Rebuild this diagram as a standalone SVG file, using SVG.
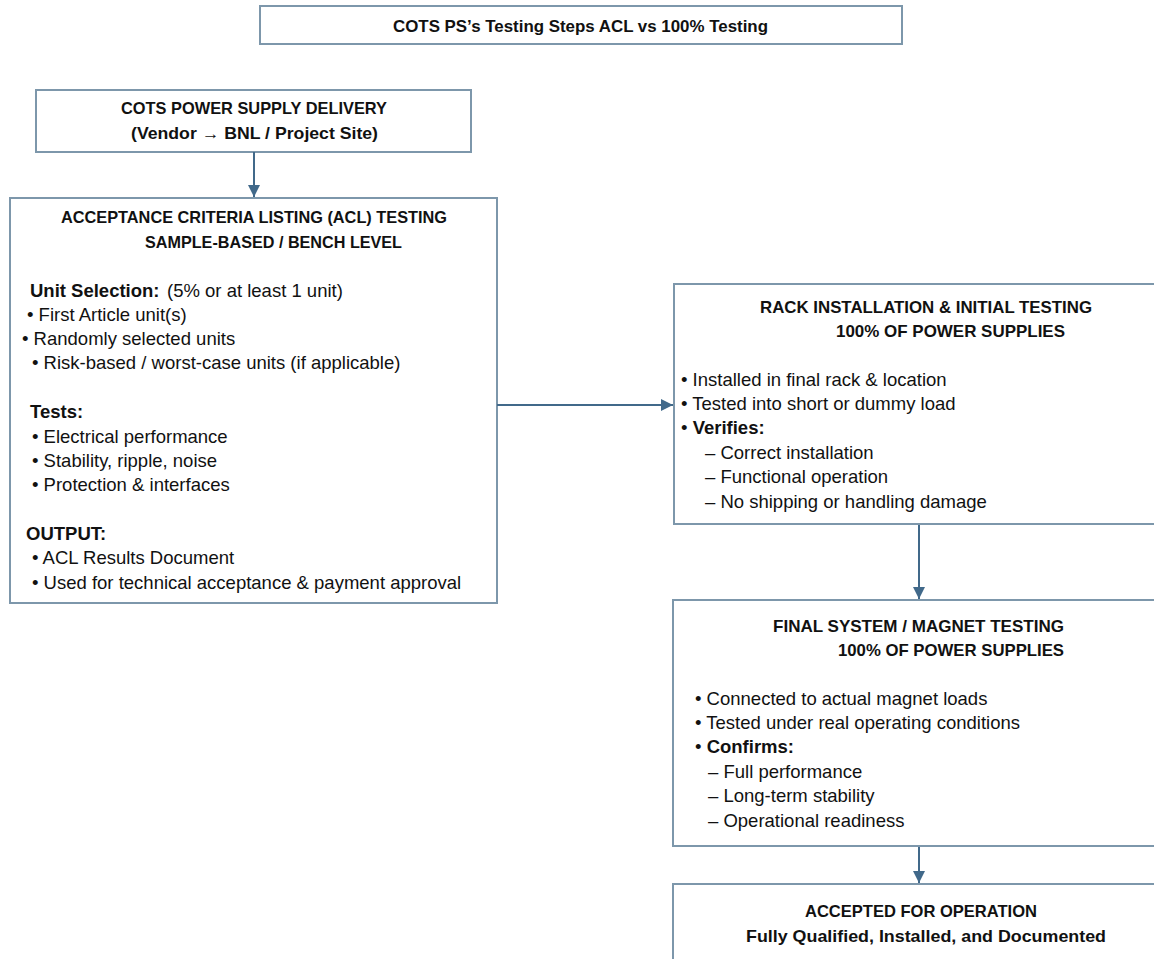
<svg xmlns="http://www.w3.org/2000/svg" width="1154" height="959" viewBox="0 0 1154 959">
<style>
.box{fill:#ffffff;stroke:#7d97ab;stroke-width:2}
.t{font-family:"Liberation Sans",Arial,sans-serif;font-size:18.5px;fill:#111111}
.h{font-family:"Liberation Sans",Arial,sans-serif;font-size:16.5px;font-weight:bold;fill:#111111}
.b{font-weight:bold}
.conn{stroke:#41698a;stroke-width:2;fill:none}
</style>
<defs>
<marker id="ah" viewBox="0 0 10 10" refX="10" refY="5" markerWidth="12" markerHeight="12" markerUnits="userSpaceOnUse" orient="auto">
<path d="M0,0 L10,5 L0,10 z" fill="#41698a"/>
</marker>
</defs>
<rect width="1154" height="959" fill="#ffffff"/>
<g id="title">
<rect class="box" x="260" y="6" width="642" height="38"/>
<text class="h" x="393" y="32" textLength="375" lengthAdjust="spacingAndGlyphs">COTS PS’s Testing Steps ACL vs 100% Testing</text>
</g>
<g id="delivery">
<rect class="box" x="36" y="90" width="435" height="62"/>
<text class="h" x="121" y="114" textLength="266" lengthAdjust="spacingAndGlyphs">COTS POWER SUPPLY DELIVERY</text>
<text class="h" x="131" y="139" textLength="247" lengthAdjust="spacingAndGlyphs">(Vendor → BNL / Project Site)</text>
</g>
<g id="acl">
<rect class="box" x="10" y="198" width="487" height="405"/>
<text class="h" x="61" y="223" textLength="386" lengthAdjust="spacingAndGlyphs">ACCEPTANCE CRITERIA LISTING (ACL) TESTING</text>
<text class="h" x="145" y="248" textLength="257" lengthAdjust="spacingAndGlyphs">SAMPLE-BASED / BENCH LEVEL</text>
<text class="t b" x="30" y="297">Unit Selection:</text>
<text class="t" x="167" y="297">(5% or at least 1 unit)</text>
<text class="t" x="27" y="321">• First Article unit(s)</text>
<text class="t" x="22" y="345">• Randomly selected units</text>
<text class="t" x="32" y="369">• Risk-based / worst-case units (if applicable)</text>
<text class="t b" x="30" y="418">Tests:</text>
<text class="t" x="32" y="443">• Electrical performance</text>
<text class="t" x="32" y="467">• Stability, ripple, noise</text>
<text class="t" x="32" y="491">• Protection &amp; interfaces</text>
<text class="t b" x="26" y="540">OUTPUT:</text>
<text class="t" x="32" y="564">• ACL Results Document</text>
<text class="t" x="32" y="589">• Used for technical acceptance &amp; payment approval</text>
</g>
<g id="rack">
<rect class="box" x="674" y="284" width="490" height="240"/>
<text class="h" x="760" y="313" textLength="332" lengthAdjust="spacingAndGlyphs">RACK INSTALLATION &amp; INITIAL TESTING</text>
<text class="h" x="836" y="337" textLength="229" lengthAdjust="spacingAndGlyphs">100% OF POWER SUPPLIES</text>
<text class="t" x="681" y="386">• Installed in final rack &amp; location</text>
<text class="t" x="681" y="410">• Tested into short or dummy load</text>
<text class="t" x="681" y="434">• <tspan class="b">Verifies:</tspan></text>
<text class="t" x="705" y="459">– Correct installation</text>
<text class="t" x="705" y="483">– Functional operation</text>
<text class="t" x="705" y="508">– No shipping or handling damage</text>
</g>
<g id="final">
<rect class="box" x="673" y="600" width="491" height="246"/>
<text class="h" x="773" y="632" textLength="291" lengthAdjust="spacingAndGlyphs">FINAL SYSTEM / MAGNET TESTING</text>
<text class="h" x="838" y="656" textLength="226" lengthAdjust="spacingAndGlyphs">100% OF POWER SUPPLIES</text>
<text class="t" x="695" y="705">• Connected to actual magnet loads</text>
<text class="t" x="695" y="729">• Tested under real operating conditions</text>
<text class="t" x="695" y="753">• <tspan class="b">Confirms:</tspan></text>
<text class="t" x="708" y="778">– Full performance</text>
<text class="t" x="708" y="802">– Long-term stability</text>
<text class="t" x="708" y="827">– Operational readiness</text>
</g>
<g id="accepted">
<rect class="box" x="673" y="884" width="491" height="90"/>
<text class="h" x="805" y="917" textLength="232" lengthAdjust="spacingAndGlyphs">ACCEPTED FOR OPERATION</text>
<text class="h" x="746" y="942" textLength="360" lengthAdjust="spacingAndGlyphs">Fully Qualified, Installed, and Documented</text>
</g>
<g id="connectors">
<line class="conn" x1="254" y1="152" x2="254" y2="197" marker-end="url(#ah)"/>
<line class="conn" x1="497" y1="405" x2="673" y2="405" marker-end="url(#ah)"/>
<line class="conn" x1="919" y1="525" x2="919" y2="599" marker-end="url(#ah)"/>
<line class="conn" x1="919" y1="847" x2="919" y2="883" marker-end="url(#ah)"/>
</g>
</svg>
